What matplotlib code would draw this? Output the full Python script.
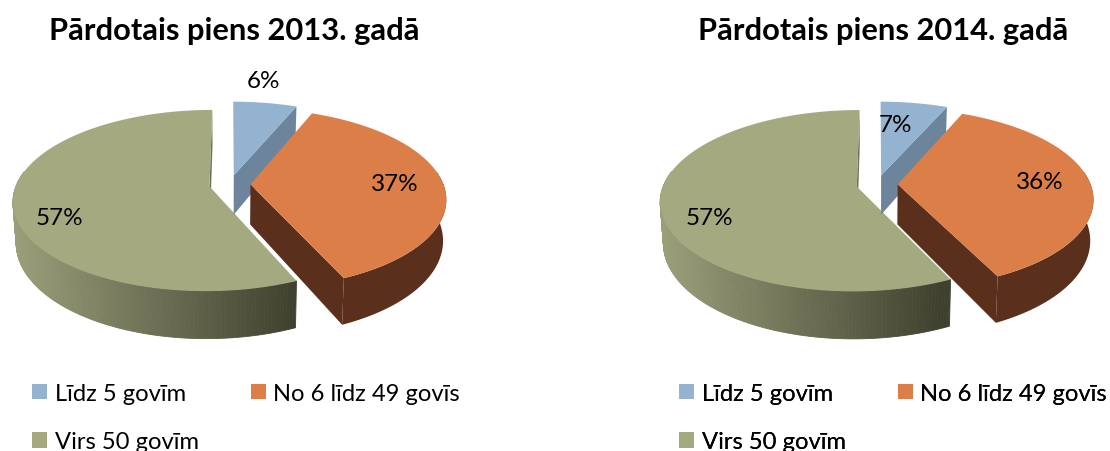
import numpy as np
import matplotlib
matplotlib.use('Agg')
import matplotlib.pyplot as plt
from matplotlib.patches import Patch
from matplotlib.colors import to_rgb

plt.rcParams['font.family'] = ['Lato', 'DejaVu Sans']

# dati
categories = ['Līdz 5 govīm', 'No 6 līdz 49 govīs', 'Virs 50 govīm']
titles = ['Pārdotais piens 2013. gadā', 'Pārdotais piens 2014. gadā']
shares_2013 = [6.2, 37.25, 56.55]
shares_2014 = [6.51, 36.4, 57.09]

# izskats
TOP_COLORS = ['#93B3D1', '#DB7E48', '#A4A97F']
BLUE_CUT = '#6C859C'
BROWN_SIDE = '#5A2F1B'
GREEN_SIDE_LEFT = '#9A9E79'
GREEN_SIDE_MID = '#6E7055'
GREEN_SIDE_RIGHT = '#3F412E'

RX, RY, PERSP, DEPTH = 193, 87.8, 0.155, 40
BOTTOM_SHRINK = 0.985
EXPLODE = 0.107
ORIGINS = [(229.8, 185.5), (877.0, 185.5)]
LABEL_POS = [[(264, 81), (395, 185), (59, 219)],
             [(896, 125), (1040, 183), (709, 219)]]
TITLE_X = [234, 883]
LEGEND_X = [32, 679]


def project(o, u, v, z=0.0):
    w = 1 / (1 + PERSP * v)
    scale = 1 - (1 - BOTTOM_SHRINK) * z
    return o[0] + RX * u * w * scale, o[1] - RY * v * w + DEPTH * z * w


def green_shade(x, o):
    t = np.clip((x - (o[0] - 215)) / 280, 0, 1)
    if t < 0.5:
        a, b, s = GREEN_SIDE_LEFT, GREEN_SIDE_MID, t * 2
    else:
        a, b, s = GREEN_SIDE_MID, GREEN_SIDE_RIGHT, (t - 0.5) * 2
    return tuple((1 - s) * np.array(to_rgb(a)) + s * np.array(to_rgb(b)))


def draw_pie(ax, shares, o):
    edges = np.radians(np.cumsum([0] + list(shares)) * 3.6)
    wedges = []
    for i in range(3):
        mid = (edges[i] + edges[i + 1]) / 2
        cu, cv = EXPLODE * np.sin(mid), EXPLODE * np.cos(mid)
        t = np.linspace(edges[i], edges[i + 1], 240)
        wedges.append((cu, cv, cu + np.sin(t), cv + np.cos(t)))

    # zals: sienas un virsma
    cu, cv, au, av = wedges[2]
    x0, y0 = project(o, au, av)
    x1, y1 = project(o, au, av, 1)
    ax.fill([project(o, cu, cv)[0], x0[-1], x1[-1], project(o, cu, cv, 1)[0]],
            [project(o, cu, cv)[1], y0[-1], y1[-1], project(o, cu, cv, 1)[1]],
            color=GREEN_SIDE_MID, lw=0)
    for j in range(len(au) - 1):
        if av[j] < 0.15:
            c = green_shade(x0[j], o)
            ax.fill([x0[j], x0[j + 1], x1[j + 1], x1[j]],
                    [y0[j], y0[j + 1], y1[j + 1], y1[j]],
                    color=c, lw=0.6)
    ax.fill(np.r_[project(o, cu, cv)[0], x0], np.r_[project(o, cu, cv)[1], y0],
            color=TOP_COLORS[2], lw=0)

    # zila
    cu, cv, au, av = wedges[0]
    x0, y0 = project(o, au, av)
    x1, y1 = project(o, au, av, 1)
    ax.fill([project(o, cu, cv)[0], x0[-1], x1[-1], project(o, cu, cv, 1)[0]],
            [project(o, cu, cv)[1], y0[-1], y1[-1], project(o, cu, cv, 1)[1]],
            color=BLUE_CUT, lw=0)
    ax.fill(np.r_[project(o, cu, cv)[0], x0], np.r_[project(o, cu, cv)[1], y0],
            color=TOP_COLORS[0], lw=0)

    # oranza
    cu, cv, au, av = wedges[1]
    x0, y0 = project(o, au, av)
    x1, y1 = project(o, au, av, 1)
    ax.fill([project(o, cu, cv)[0], x0[-1], x1[-1], project(o, cu, cv, 1)[0]],
            [project(o, cu, cv)[1], y0[-1], y1[-1], project(o, cu, cv, 1)[1]],
            color=BROWN_SIDE, lw=0)
    front = av < 0.15
    ax.fill(np.r_[x0[front], x1[front][::-1]], np.r_[y0[front], y1[front][::-1]],
            color=BROWN_SIDE, lw=0)
    ax.fill(np.r_[project(o, cu, cv)[0], x0], np.r_[project(o, cu, cv)[1], y0],
            color=TOP_COLORS[1], lw=0)


fig = plt.figure(figsize=(11.1, 4.52), dpi=100)
ax = fig.add_axes([0, 0, 1, 1])
ax.set_xlim(0, 1110)
ax.set_ylim(452, 0)
ax.axis('off')

handles = [Patch(color=c, lw=0) for c in TOP_COLORS]
# matplotlib aizpilda kolonnas, tapec seciba 0, 2, 1
order = [0, 2, 1]

for k, shares in enumerate([shares_2013, shares_2014]):
    draw_pie(ax, shares, ORIGINS[k])
    ax.text(TITLE_X[k], 31, titles[k], fontsize=22.2, fontweight='bold',
            ha='center', va='center', color='black')
    for s, pos in zip(shares, LABEL_POS[k]):
        ax.text(pos[0], pos[1], f'{round(s)}%', fontsize=17.5,
                ha='center', va='center', color='black')
    leg = ax.legend([handles[i] for i in order], [categories[i] for i in order],
                    ncols=2, loc='upper left', bbox_to_anchor=(LEGEND_X[k], 384),
                    bbox_transform=ax.transData, frameon=False, fontsize=17.1,
                    borderpad=0, borderaxespad=0, handlelength=0.63, handleheight=0.63,
                    handletextpad=0.32, columnspacing=2.2, labelspacing=1.15)
    ax.add_artist(leg)

fig.savefig('out.png', dpi=100)
